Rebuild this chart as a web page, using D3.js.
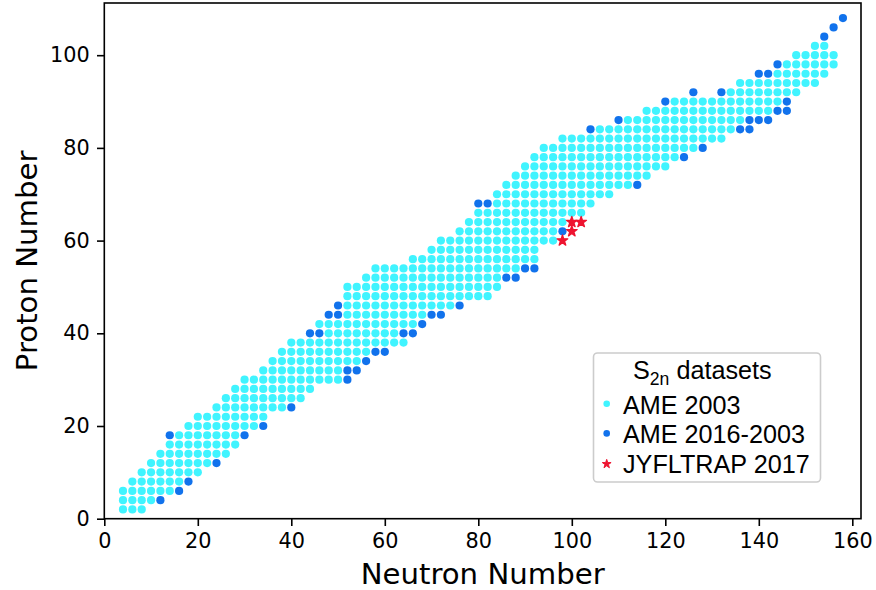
<!DOCTYPE html>
<html>
<head>
<meta charset="utf-8">
<script src="https://cdn.jsdelivr.net/npm/d3@7"></script>
<style>
  html, body { margin: 0; padding: 0; background: #ffffff; }
  svg { display: block; }
</style>
</head>
<body>
<svg id="chart" width="876" height="590"></svg>
<script>
// ---------------- DATA ----------------
// Proton number of each row of the chart (even Z only)
const rowZ = [2,4,6,8,10,12,14,16,18,20,22,24,26,28,30,32,34,36,38,40,42,44,46,48,50,52,54,56,58,60,62,64,66,68,70,72,74,76,78,80,82,84,86,88,90,92,94,96,98,100,102];
// AME 2003: first and last neutron number of the contiguous run of points in that row (step 2)
const ame2003Nmin = [4,4,4,6,8,10,12,14,16,18,20,24,26,28,30,34,36,38,40,48,46,52,52,52,52,56,58,66,70,72,76,78,80,84,84,86,88,90,92,94,98,106,112,116,122,134,136,144,146,148,152];
const ame2003Nmax = [8,10,14,16,20,22,26,28,28,32,34,38,42,44,50,50,54,56,64,62,66,68,74,82,84,84,88,92,92,96,96,98,102,104,108,112,116,120,122,126,132,134,136,142,144,148,152,154,156,156,154];

// AME 2016-2003: individual points (neutron number, proton number)
const ame2016N = [12,16,18,24,14,30,34,40,52,52,54,56,58,60,44,46,64,66,68,48,50,70,72,50,76,86,88,90,92,98,80,82,114,124,128,104,136,138,110,138,140,142,144,146,120,146,126,132,140,142,144,154,156,158];
const ame2016Z = [4,6,8,12,18,18,20,24,30,32,32,34,36,36,40,40,40,40,42,44,44,44,44,46,46,52,52,54,54,62,68,68,72,78,80,84,84,84,86,86,86,86,88,88,90,90,92,92,96,96,98,104,106,108];

// JYFLTRAP 2017
const jyflN = [98,100,100,102];
const jyflZ = [60,62,64,64];

// Axis ticks and texts
const xTicks = [0,20,40,60,80,100,120,140,160];
const yTicks = [0,20,40,60,80,100];
const xLabel = "Neutron Number";
const yLabel = "Proton Number";
const legendTitleMain = "S";
const legendTitleSub = "2n";
const legendTitleRest = " datasets";
const seriesNames = ["AME 2003", "AME 2016-2003", "JYFLTRAP 2017"];

// ---------------- BUILD POINT LISTS ----------------
const ame2003 = [];
rowZ.forEach((z, i) => {
  for (let n = ame2003Nmin[i]; n <= ame2003Nmax[i]; n += 2) ame2003.push({n, z});
});
const ame2016 = ame2016N.map((n, i) => ({n, z: ame2016Z[i]}));
const jyfl = jyflN.map((n, i) => ({n, z: jyflZ[i]}));

// ---------------- LAYOUT ----------------
const colors = { cyan: "#40f4ff", blue: "#1172ec", red: "#ee1430" };
const plot = { left: 104.3, right: 861, top: 3, bottom: 518.7 };

const svg = d3.select("#chart");
const x = d3.scaleLinear().domain([0, 161.86]).range([plot.left, plot.right]);
const y = d3.scaleLinear().domain([0, 111.26]).range([plot.bottom, plot.top]);

// points
const g = svg.append("g");
g.selectAll("circle.c1").data(ame2003).enter().append("circle")
  .attr("class", "c1")
  .attr("cx", d => x(d.n)).attr("cy", d => y(d.z)).attr("r", 4.1)
  .attr("fill", colors.cyan);
g.selectAll("circle.c2").data(ame2016).enter().append("circle")
  .attr("class", "c2")
  .attr("cx", d => x(d.n)).attr("cy", d => y(d.z)).attr("r", 4.1)
  .attr("fill", colors.blue);
const star = d3.symbol().type(d3.symbolStar).size(36);
g.selectAll("path.s").data(jyfl).enter().append("path")
  .attr("class", "s")
  .attr("transform", d => `translate(${x(d.n)},${y(d.z)})`)
  .attr("d", star)
  .attr("fill", colors.red)
  .attr("stroke", colors.red).attr("stroke-width", 1.3).attr("stroke-linejoin", "round");

// axes
const tickFont = "DejaVu Sans, sans-serif";
const xAxis = svg.append("g")
  .attr("transform", `translate(0,${plot.bottom})`)
  .call(d3.axisBottom(x).tickValues(xTicks).tickSize(7.3).tickPadding(7.3).tickFormat(d3.format("d")));
const yAxis = svg.append("g")
  .attr("transform", `translate(${plot.left},0)`)
  .call(d3.axisLeft(y).tickValues(yTicks).tickSize(7.3).tickPadding(7.3).tickFormat(d3.format("d")));
[xAxis, yAxis].forEach(a => {
  a.select(".domain").remove();
  a.selectAll(".tick line").attr("stroke", "#000").attr("stroke-width", 1.6);
  a.selectAll(".tick text").attr("fill", "#000").style("font-family", tickFont).style("font-size", "20.8px");
});

// frame
svg.append("rect")
  .attr("x", plot.left).attr("y", plot.top)
  .attr("width", plot.right - plot.left).attr("height", plot.bottom - plot.top)
  .attr("fill", "none").attr("stroke", "#000").attr("stroke-width", 1.6);

// axis labels
svg.append("text")
  .attr("x", (plot.left + plot.right) / 2).attr("y", 584)
  .attr("text-anchor", "middle")
  .style("font-family", tickFont).style("font-size", "29.2px")
  .text(xLabel);
svg.append("text")
  .attr("transform", `translate(36.5,${(plot.top + plot.bottom) / 2}) rotate(-90)`)
  .attr("text-anchor", "middle")
  .style("font-family", tickFont).style("font-size", "29.2px")
  .text(yLabel);

// legend
const legFont = "Liberation Sans, Arial, sans-serif";
const leg = svg.append("g");
leg.append("rect")
  .attr("x", 593.5).attr("y", 353).attr("width", 227).attr("height", 129).attr("rx", 4)
  .attr("fill", "#fff").attr("stroke", "#cccccc").attr("stroke-width", 1.6);
const t = leg.append("text")
  .attr("x", 633).attr("y", 379)
  .style("font-family", legFont).style("font-size", "25.2px").attr("fill", "#000");
t.append("tspan").text(legendTitleMain);
t.append("tspan").attr("dy", 6).style("font-size", "17.6px").text(legendTitleSub);
t.append("tspan").attr("dy", -6).text(legendTitleRest);

const entryY = [413.5, 443.2, 472.8];
leg.append("circle").attr("cx", 606.7).attr("cy", entryY[0] - 9.8).attr("r", 3.3).attr("fill", colors.cyan);
leg.append("circle").attr("cx", 606.7).attr("cy", entryY[1] - 9.8).attr("r", 3.3).attr("fill", colors.blue);
leg.append("path").attr("transform", `translate(606.7,${entryY[2] - 8.8})`)
  .attr("d", d3.symbol().type(d3.symbolStar).size(24)).attr("fill", colors.red)
  .attr("stroke", colors.red).attr("stroke-width", 1).attr("stroke-linejoin", "round");
seriesNames.forEach((s, i) => {
  leg.append("text").attr("x", 623).attr("y", entryY[i])
    .style("font-family", legFont).style("font-size", "25.2px").attr("fill", "#000")
    .text(s);
});
</script>
</body>
</html>
